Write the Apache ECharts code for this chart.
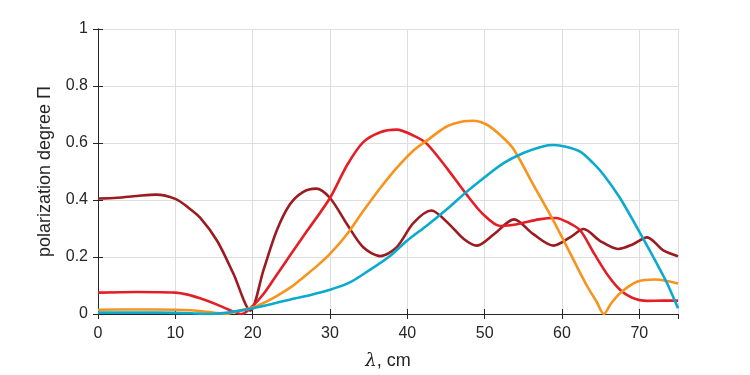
<!DOCTYPE html>
<html>
<head>
<meta charset="utf-8">
<script src="https://cdn.jsdelivr.net/npm/echarts@6/dist/echarts.min.js"></script>
<style>
  html, body { margin: 0; padding: 0; background: #fff; }
  #main { width: 750px; height: 375px; }
</style>
</head>
<body>
<div id="main"></div>
<script>
// curves, x = wavelength in cm
const xDark = [0, 2.5, 5, 7.5, 10, 11.6, 13.2, 15.4, 17.5, 19.7, 21.4, 23.1, 24.8, 26.5, 28.2, 30, 32.2, 34.3, 36.5, 38.6, 40.8, 43.1, 45.3, 47.3, 49, 51.2, 53.8, 56.3, 58.9, 61.1, 62.8, 64.9, 67.3, 69.2, 71, 73.1, 75]
const yDark = [0.405, 0.408, 0.414, 0.419, 0.404, 0.375, 0.338, 0.257, 0.142, 0.012, 0.154, 0.292, 0.384, 0.428, 0.44, 0.407, 0.315, 0.234, 0.203, 0.234, 0.32, 0.363, 0.318, 0.263, 0.24, 0.28, 0.332, 0.28, 0.24, 0.27, 0.298, 0.257, 0.228, 0.245, 0.269, 0.223, 0.203]

const xRed = [0, 5, 10, 11.6, 13.2, 15.4, 17, 18.6, 20, 21.4, 23.1, 24.8, 27, 30, 32.2, 34.3, 36.5, 38.6, 40.8, 42.5, 45.3, 47.5, 49.8, 52, 54.2, 57, 59.2, 61, 62.4, 64.2, 66, 67.5, 69, 71, 73, 75]
const yRed = [0.075, 0.077, 0.075, 0.068, 0.055, 0.033, 0.014, 0.0, 0.028, 0.07, 0.137, 0.204, 0.29, 0.407, 0.522, 0.603, 0.638, 0.647, 0.626, 0.598, 0.505, 0.425, 0.35, 0.309, 0.315, 0.332, 0.337, 0.318, 0.292, 0.21, 0.133, 0.085, 0.058, 0.046, 0.047, 0.047]

const xOrange = [0, 5, 10, 12, 14, 15.5, 16.4, 18, 20, 21.5, 23.1, 25, 26.6, 28.3, 30, 32.2, 34.3, 36.5, 38.6, 40.8, 42.7, 45.1, 47.3, 48.5, 50.3, 52, 53.7, 56.3, 58.9, 61.1, 63.2, 64.5, 65.4, 66.3, 67.5, 69.7, 72.1, 75]
const yOrange = [0.015, 0.016, 0.015, 0.013, 0.008, 0.003, 0.0, 0.01, 0.023, 0.04, 0.063, 0.095, 0.13, 0.168, 0.211, 0.28, 0.361, 0.442, 0.512, 0.574, 0.612, 0.658, 0.676, 0.678, 0.664, 0.628, 0.58, 0.453, 0.327, 0.211, 0.1, 0.042, 0.0, 0.035, 0.073, 0.113, 0.121, 0.107]

const xCyan = [0, 5, 10, 12.5, 14.5, 16.5, 18, 20, 22.5, 25, 27.5, 30, 32.5, 35, 37.5, 40, 42.5, 45, 47.5, 50, 52.5, 55, 57.5, 58.9, 60.5, 62.4, 64, 65.4, 67.5, 69.7, 71.8, 73.6, 75]
const yCyan = [0.005, 0.005, 0.004, 0.002, 0.0, 0.004, 0.01, 0.02, 0.035, 0.052, 0.067, 0.085, 0.11, 0.152, 0.198, 0.258, 0.31, 0.365, 0.425, 0.48, 0.53, 0.565, 0.588, 0.593, 0.587, 0.569, 0.53, 0.488, 0.407, 0.303, 0.2, 0.107, 0.02]

const colors = ['#9b1b20', '#e41e26', '#f7941d', '#0aaacf']

function pairs(xs, ys) {
  return xs.map((x, i) => [x, ys[i]])
}

const chart = echarts.init(document.getElementById('main'))
const font = 'Liberation Sans, Arial, sans-serif'
const axisCol = '#262626'

// top and right edges of the box, ticks only
function frameAxis(pos, isX) {
  return {
    type: 'value',
    position: pos,
    min: 0,
    max: isX ? 75 : 1,
    interval: isX ? 10 : 0.2,
    axisLine: { show: true, lineStyle: { color: axisCol, width: 1 } },
    axisTick: { show: true, inside: true, length: 5, lineStyle: { color: axisCol } },
    axisLabel: { show: false },
    splitLine: { show: false }
  }
}

const option = {
  animation: false,
  grid: { left: 98, right: 72, top: 29, bottom: 57 },
  xAxis: [
    {
      type: 'value',
      min: 0,
      max: 75,
      interval: 10,
      name: '{i|λ}, cm',
      nameLocation: 'middle',
      nameGap: 38,
      nameTextStyle: {
        fontFamily: font, fontSize: 18, color: axisCol,
        rich: { i: { fontFamily: 'DejaVu Serif, serif', fontStyle: 'italic', fontSize: 18, color: axisCol } }
      },
      axisLine: { lineStyle: { color: axisCol, width: 1 } },
      axisTick: { inside: true, length: 5, lineStyle: { color: axisCol } },
      axisLabel: { fontFamily: font, fontSize: 16, color: axisCol, margin: 12, showMaxLabel: false },
      splitLine: { show: true, lineStyle: { color: '#dedede', width: 1 } }
    },
    frameAxis('top', true)
  ],
  yAxis: [
    {
      type: 'value',
      min: 0,
      max: 1,
      interval: 0.2,
      name: 'polarization degree Π',
      nameLocation: 'middle',
      nameGap: 44,
      nameTextStyle: { fontFamily: font, fontSize: 18, color: axisCol },
      axisLine: { show: true, lineStyle: { color: axisCol, width: 1 } },
      axisTick: { show: true, inside: true, length: 5, lineStyle: { color: axisCol } },
      axisLabel: { fontFamily: font, fontSize: 16, color: axisCol, margin: 10 },
      splitLine: { show: true, lineStyle: { color: '#dedede', width: 1 } }
    },
    frameAxis('right', false)
  ],
  series: [
    { data: pairs(xDark, yDark), color: colors[0] },
    { data: pairs(xRed, yRed), color: colors[1] },
    { data: pairs(xOrange, yOrange), color: colors[2] },
    { data: pairs(xCyan, yCyan), color: colors[3] }
  ].map(s => ({
    type: 'line',
    data: s.data,
    showSymbol: false,
    smooth: 0.3,
    clip: true,
    lineStyle: { color: s.color, width: 2.6 },
    itemStyle: { color: s.color }
  }))
}

chart.setOption(option)
</script>
</body>
</html>
